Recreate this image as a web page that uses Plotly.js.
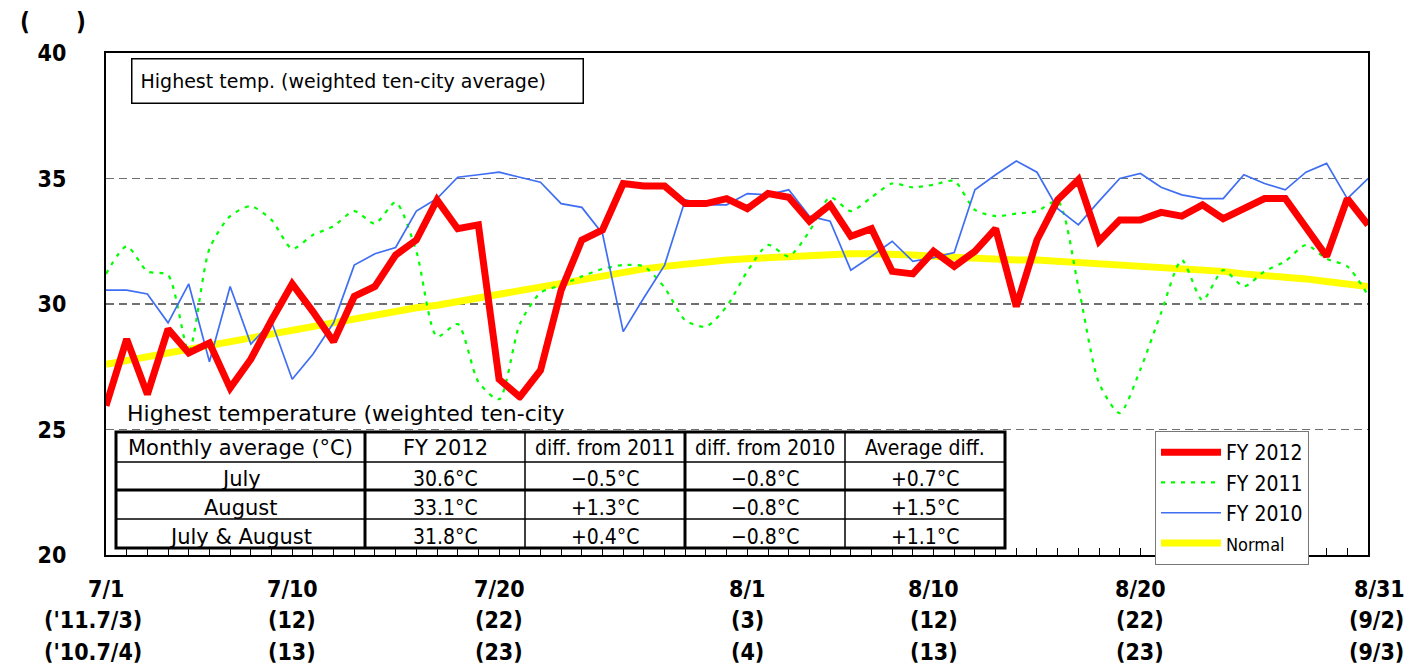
<!DOCTYPE html>
<html>
<head>
<meta charset="utf-8">
<script src="https://cdn.plot.ly/plotly-3.0.1.min.js"></script>
<style>html,body{margin:0;padding:0;background:#fff;}#chart{width:1409px;height:669px;}</style>
</head>
<body>
<div id="chart"></div>
<script>
// ---------------- data ----------------
const days = Array.from({length: 62}, (_, i) => i + 1); // 7/1 .. 8/31 (FY2012 dates)

const fy2012 = [25.95, 28.6, 26.4, 29.0, 28.05, 28.45, 26.65, 27.8, 29.35, 30.8,
  29.7, 28.5, 30.3, 30.7, 31.95, 32.55, 34.15, 33.0, 33.15, 27.0,
  26.3, 27.35, 30.55, 32.55, 32.95, 34.8, 34.7, 34.7, 34.0, 34.0,
  34.2, 33.8, 34.4, 34.25, 33.3, 33.95, 32.7, 33.0, 31.3, 31.2,
  32.1, 31.5, 32.1, 33.0, 29.9, 32.55, 34.15, 34.95, 32.5, 33.35,
  33.35, 33.65, 33.5, 33.95, 33.4, 33.8, 34.2, 34.2, 33.0, 31.9,
  34.2, 33.15];

const fy2011 = [31.2, 32.3, 31.3, 31.15, 28.1, 32.2, 33.5, 33.9, 33.35, 32.2,
  32.75, 33.1, 33.7, 33.2, 34.05, 32.1, 28.7, 29.2, 26.9, 26.2,
  29.2, 30.45, 30.75, 31.1, 31.4, 31.55, 31.5, 30.65, 29.35, 29.1,
  29.9, 31.3, 32.35, 31.9, 32.9, 34.25, 33.7, 34.25, 34.8, 34.65,
  34.75, 34.9, 33.75, 33.5, 33.6, 33.7, 34.1, 30.7, 26.85, 25.65,
  27.4, 29.65, 31.75, 30.15, 31.35, 30.7, 31.3, 31.7, 32.35, 31.8,
  31.5, 30.35];

const fy2010 = [30.55, 30.55, 30.4, 29.25, 30.8, 27.7, 30.7, 28.4, 29.3, 27.0,
  28.0, 29.25, 31.55, 32.0, 32.25, 33.7, 34.2, 35.05, 35.15, 35.25,
  35.05, 34.85, 34.0, 33.85, 32.8, 28.9, 30.25, 31.55, 34.15, 33.95,
  33.95, 34.4, 34.35, 34.55, 33.5, 33.3, 31.35, 31.9, 32.5, 31.7,
  31.85, 32.05, 34.55, 35.15, 35.7, 35.25, 33.8, 33.15, 34.1, 35.0,
  35.2, 34.65, 34.35, 34.2, 34.2, 35.15, 34.8, 34.55, 35.25, 35.6,
  34.2, 35.0];

const normal = [27.6, 27.75, 27.9, 28.05, 28.2, 28.35, 28.5, 28.65, 28.8, 29.0,
  29.1, 29.25, 29.4, 29.55, 29.7, 29.85, 29.95, 30.1, 30.2, 30.35,
  30.5, 30.65, 30.8, 31.0, 31.15, 31.25, 31.4, 31.5, 31.6, 31.65,
  31.75, 31.8, 31.85, 31.9, 31.95, 32.0, 32.0, 32.0, 32.0, 31.95,
  31.9, 31.85, 31.8, 31.8, 31.75, 31.75, 31.7, 31.65, 31.6, 31.55,
  31.5, 31.5, 31.4, 31.35, 31.3, 31.2, 31.15, 31.1, 31.0, 30.9,
  30.8, 30.7];

const seriesNames = ["FY 2012", "FY 2011", "FY 2010", "Normal"];

const yTickVals = [20, 25, 30, 35, 40];
const xLabelDays = [1, 10, 20, 32, 41, 51, 62];
const xLabels2012 = ["7/1", "7/10", "7/20", "8/1", "8/10", "8/20", "8/31"];
const xLabels2011 = ["('11.7/3)", "(12)", "(22)", "(3)", "(12)", "(22)", "(9/2)"];
const xLabels2010 = ["('10.7/4)", "(13)", "(23)", "(4)", "(13)", "(23)", "(9/3)"];

const chartTitle = "Highest temp. (weighted ten-city average)";
const subLabel = "Highest temperature (weighted ten-city";

const tableHeader = ["Monthly average (°C)", "FY 2012", "diff. from 2011", "diff. from 2010", "Average diff."];
const rowLabels = ["July", "August", "July & August"];
const avg2012 = ["30.6°C", "33.1°C", "31.8°C"];
const diff2011 = ["−0.5°C", "+1.3°C", "+0.4°C"];
const diff2010 = ["−0.8°C", "−0.8°C", "−0.8°C"];
const avgDiff = ["+0.7°C", "+1.5°C", "+1.1°C"];

// ---------------- layout helpers ----------------
const W = 1409, H = 669;
const PL = 106, PR = 1368, PT = 53, PB = 555;
const px2x = p => (p - PL) / (PR - PL);
const py2y = p => (PB - p) / (PB - PT);

const condensed = "'DejaVu Sans Condensed', 'Liberation Sans Narrow', 'DejaVu Sans', sans-serif";
const plain = "'DejaVu Sans', 'Liberation Sans', sans-serif";

const traces = [
  {x: days, y: normal, name: '<span style="font-size:18px">' + seriesNames[3] + '</span>', type: 'scatter', mode: 'lines',
   line: {color: '#ffff00', width: 7}, legendrank: 4},
  {x: days, y: fy2011, name: seriesNames[1], type: 'scatter', mode: 'lines',
   line: {color: '#00ff00', width: 2.2, dash: '4px,6px', shape: 'spline', smoothing: 0.7}, legendrank: 2},
  {x: days, y: fy2010, name: seriesNames[2], type: 'scatter', mode: 'lines',
   line: {color: '#3f6ef2', width: 1.7}, legendrank: 3},
  {x: days, y: fy2012, name: seriesNames[0], type: 'scatter', mode: 'lines',
   line: {color: '#ff0000', width: 7}, legendrank: 1}
];

const shapes = [];
const annotations = [];

// parentheses at top-left (unit label)
annotations.push({xref: 'paper', yref: 'paper', x: px2x(25), y: py2y(22), text: '(', showarrow: false,
  xanchor: 'center', yanchor: 'middle', font: {family: condensed, size: 24, color: '#000', weight: 'bold'}});
annotations.push({xref: 'paper', yref: 'paper', x: px2x(81), y: py2y(22), text: ')', showarrow: false,
  xanchor: 'center', yanchor: 'middle', font: {family: condensed, size: 24, color: '#000', weight: 'bold'}});

// title box
annotations.push({xref: 'paper', yref: 'paper', x: px2x(131), y: py2y(58), xanchor: 'left', yanchor: 'top',
  text: chartTitle, showarrow: false, align: 'left', width: 434, height: 27, borderpad: 8,
  bordercolor: '#000', borderwidth: 1.5, bgcolor: '#fff',
  font: {family: plain, size: 19, color: '#000'}});

// sub label (clipped at bottom)
annotations.push({xref: 'paper', yref: 'paper', x: px2x(126), y: py2y(400), xanchor: 'left', yanchor: 'top',
  text: subLabel, showarrow: false, align: 'left', valign: 'top', width: 445, height: 25, borderpad: 0,
  bgcolor: '#fff', font: {family: plain, size: 22, color: '#000'}});

// x labels (three rows)
const rowsY = [589, 620, 652];
const rowsText = [xLabels2012, xLabels2011, xLabels2010];
rowsText.forEach((row, r) => {
  row.forEach((t, i) => {
    let shift = 0;
    if (i === 0 && r > 0) shift = -13;
    if (i === row.length - 1) shift = r === 0 ? 11 : 8;
    annotations.push({xref: 'x', yref: 'paper', x: xLabelDays[i], y: py2y(rowsY[r]), text: t,
      showarrow: false, xanchor: 'center', yanchor: 'middle', xshift: shift,
      font: {family: condensed, size: 23, color: '#000', weight: 'bold'}});
  });
});

// table
const colEdges = [116, 365, 525, 685, 845, 1005];
const rowEdges = [432, 462, 490, 519, 548];
shapes.push({type: 'rect', xref: 'paper', yref: 'paper', layer: 'above',
  x0: px2x(colEdges[0]), x1: px2x(colEdges[5]), y0: py2y(rowEdges[0]), y1: py2y(rowEdges[4]),
  fillcolor: '#fff', line: {color: '#000', width: 3}});
const vThick = [true, false, true, false];
for (let c = 1; c < colEdges.length - 1; c++) {
  shapes.push({type: 'line', xref: 'paper', yref: 'paper', layer: 'above',
    x0: px2x(colEdges[c]), x1: px2x(colEdges[c]), y0: py2y(rowEdges[0]), y1: py2y(rowEdges[4]),
    line: {color: '#000', width: vThick[c - 1] ? 3 : 1.5}});
}
const hThick = [false, true, false];
for (let r = 1; r < rowEdges.length - 1; r++) {
  shapes.push({type: 'line', xref: 'paper', yref: 'paper', layer: 'above',
    x0: px2x(colEdges[0]), x1: px2x(colEdges[5]), y0: py2y(rowEdges[r]), y1: py2y(rowEdges[r]),
    line: {color: '#000', width: hThick[r - 1] ? 3 : 1.5}});
}
const tableCols = [rowLabels, avg2012, diff2011, diff2010, avgDiff];
tableHeader.forEach((t, c) => {
  annotations.push({xref: 'paper', yref: 'paper', x: px2x((colEdges[c] + colEdges[c + 1]) / 2),
    y: py2y((rowEdges[0] + rowEdges[1]) / 2 + 1), text: t, showarrow: false, xanchor: 'center', yanchor: 'middle',
    font: {family: c >= 2 ? condensed : plain, size: 21, color: '#000'}});
});
tableCols.forEach((col, c) => {
  col.forEach((t, r) => {
    annotations.push({xref: 'paper', yref: 'paper', x: px2x((colEdges[c] + colEdges[c + 1]) / 2),
      y: py2y((rowEdges[r + 1] + rowEdges[r + 2]) / 2 + 3), text: t, showarrow: false,
      xanchor: 'center', yanchor: 'middle',
      font: {family: c === 0 ? plain : condensed, size: 21, color: '#000'}});
  });
});

const layout = {
  width: W, height: H,
  margin: {l: PL, r: W - PR, t: PT, b: H - PB, pad: 0},
  paper_bgcolor: '#fff', plot_bgcolor: '#fff',
  showlegend: true,
  legend: {x: px2x(1155), y: py2y(431), xanchor: 'left', yanchor: 'top',
    bgcolor: '#fff', bordercolor: '#777', borderwidth: 1, itemwidth: 60, traceorder: 'normal',
    font: {family: condensed, size: 21, color: '#000'}, tracegroupgap: 0},
  xaxis: {range: [1, 62], showgrid: false, zeroline: false, showline: true, mirror: true,
    linecolor: '#000', linewidth: 2, ticks: 'inside', ticklen: 7, tickwidth: 1, tickcolor: '#000',
    tick0: 1, dtick: 1, showticklabels: false, fixedrange: true},
  yaxis: {range: [20, 40], tickvals: yTickVals, ticktext: yTickVals.map(String), showgrid: true,
    gridcolor: '#707070', gridwidth: 1.3, griddash: '8px,5px', zeroline: false, showline: true, mirror: true,
    linecolor: '#000', linewidth: 2, ticks: '', ticklabelstandoff: 33,
    tickfont: {family: condensed, size: 23, color: '#000', weight: 'bold'}, fixedrange: true},
  shapes: shapes,
  annotations: annotations
};

Plotly.newPlot('chart', traces, layout, {displayModeBar: false, staticPlot: true});
</script>
</body>
</html>
